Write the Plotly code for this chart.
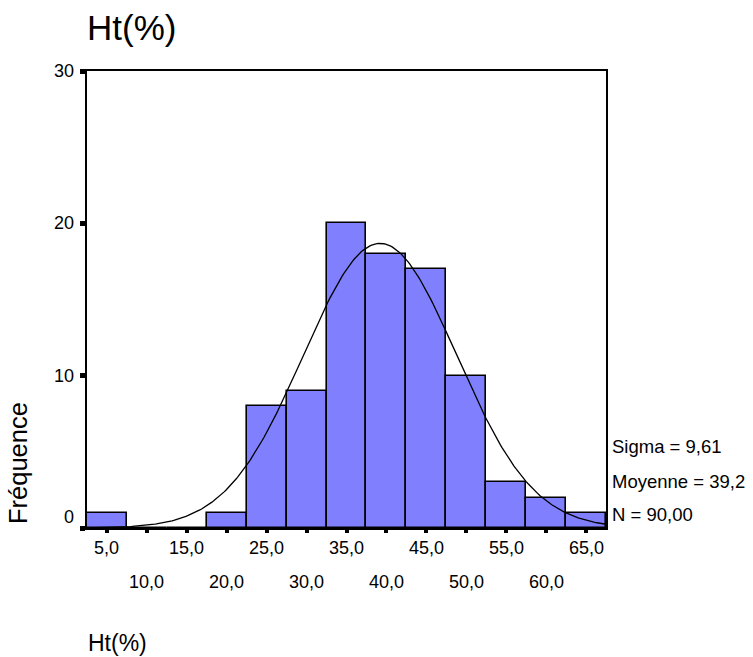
import numpy as np
import plotly.graph_objects as go

# Data
bin_centers = [5, 10, 15, 20, 25, 30, 35, 40, 45, 50, 55, 60, 65]
counts = [1, 0, 0, 1, 8, 9, 20, 18, 17, 10, 3, 2, 1]
bin_width = 5
mean_val = 39.2
sigma_val = 9.61
n_val = 90
y_ticks = [0, 10, 20, 30]
stats_text = ["Sigma = 9,61", "Moyenne = 39,2", "N = 90,00"]
title_text = "Ht(%)"
x_title = "Ht(%)"
y_title = "Fréquence"

FONT = "Arial, Liberation Sans, sans-serif"

fig = go.Figure()
fig.add_trace(go.Bar(
    x=bin_centers, y=counts, width=bin_width,
    marker=dict(color="#8080FF", line=dict(color="black", width=1.6)),
    hoverinfo="x+y", showlegend=False,
))

xc = np.linspace(2.5, 67.5, 300)
yc = n_val * bin_width / (sigma_val * np.sqrt(2 * np.pi)) * np.exp(-0.5 * ((xc - mean_val) / sigma_val) ** 2)
fig.add_trace(go.Scatter(x=xc, y=yc, mode="lines", line=dict(color="black", width=1.3),
                         showlegend=False, hoverinfo="skip"))

annotations = []
# x tick labels in two alternating rows
for i, v in enumerate(bin_centers):
    annotations.append(dict(
        x=v, xref="x", y=0, yref="paper", yanchor="middle", xanchor="center",
        yshift=-20 if i % 2 == 0 else -54, showarrow=False,
        text=f"{v:.1f}".replace(".", ","), font=dict(size=18, color="black", family=FONT)))
# y tick labels
for v in y_ticks:
    annotations.append(dict(
        x=0, xref="paper", y=v, yref="y", xanchor="right", yanchor="middle",
        xshift=-11, yshift=11 if v == 0 else 0, showarrow=False,
        text=str(v), font=dict(size=18, color="black", family=FONT)))
# stats
for t, s in zip(stats_text, [82, 47, 14]):
    annotations.append(dict(
        x=1, xref="paper", y=0, yref="paper", xanchor="left", yanchor="middle",
        xshift=4, yshift=s, showarrow=False, text=t,
        font=dict(size=18.5, color="black", family=FONT)))
# axis titles
annotations.append(dict(x=0, xref="paper", y=0, yref="paper", xanchor="left", yanchor="middle",
                        xshift=-1, yshift=-115, showarrow=False, text=x_title,
                        font=dict(size=23, color="black", family=FONT)))
annotations.append(dict(x=0, xref="paper", y=0, yref="paper", xanchor="center", yanchor="middle",
                        xshift=-69, yshift=65, textangle=-90, showarrow=False, text=y_title,
                        font=dict(size=25.5, color="black", family=FONT)))

fig.update_layout(
    width=753, height=657,
    margin=dict(l=87, r=147, t=71, b=129),
    paper_bgcolor="white", plot_bgcolor="white",
    bargap=0,
    title=dict(text=title_text, x=87 / 753, xanchor="left", xref="container",
               y=1 - 28 / 657, yref="container", yanchor="middle",
               font=dict(size=35, color="black", family=FONT)),
    annotations=annotations,
    xaxis=dict(range=[2.5, 67.5], showgrid=False, zeroline=False,
               showline=True, linecolor="black", linewidth=2, mirror=True,
               tickvals=bin_centers, showticklabels=False,
               ticks="outside", ticklen=3, tickwidth=4, tickcolor="black"),
    yaxis=dict(range=[0, 30], showgrid=False, zeroline=False,
               showline=True, linecolor="black", linewidth=2, mirror=True,
               tickvals=y_ticks, showticklabels=False,
               ticks="outside", ticklen=5, tickwidth=5, tickcolor="black"),
)

fig.write_html("out.html")
